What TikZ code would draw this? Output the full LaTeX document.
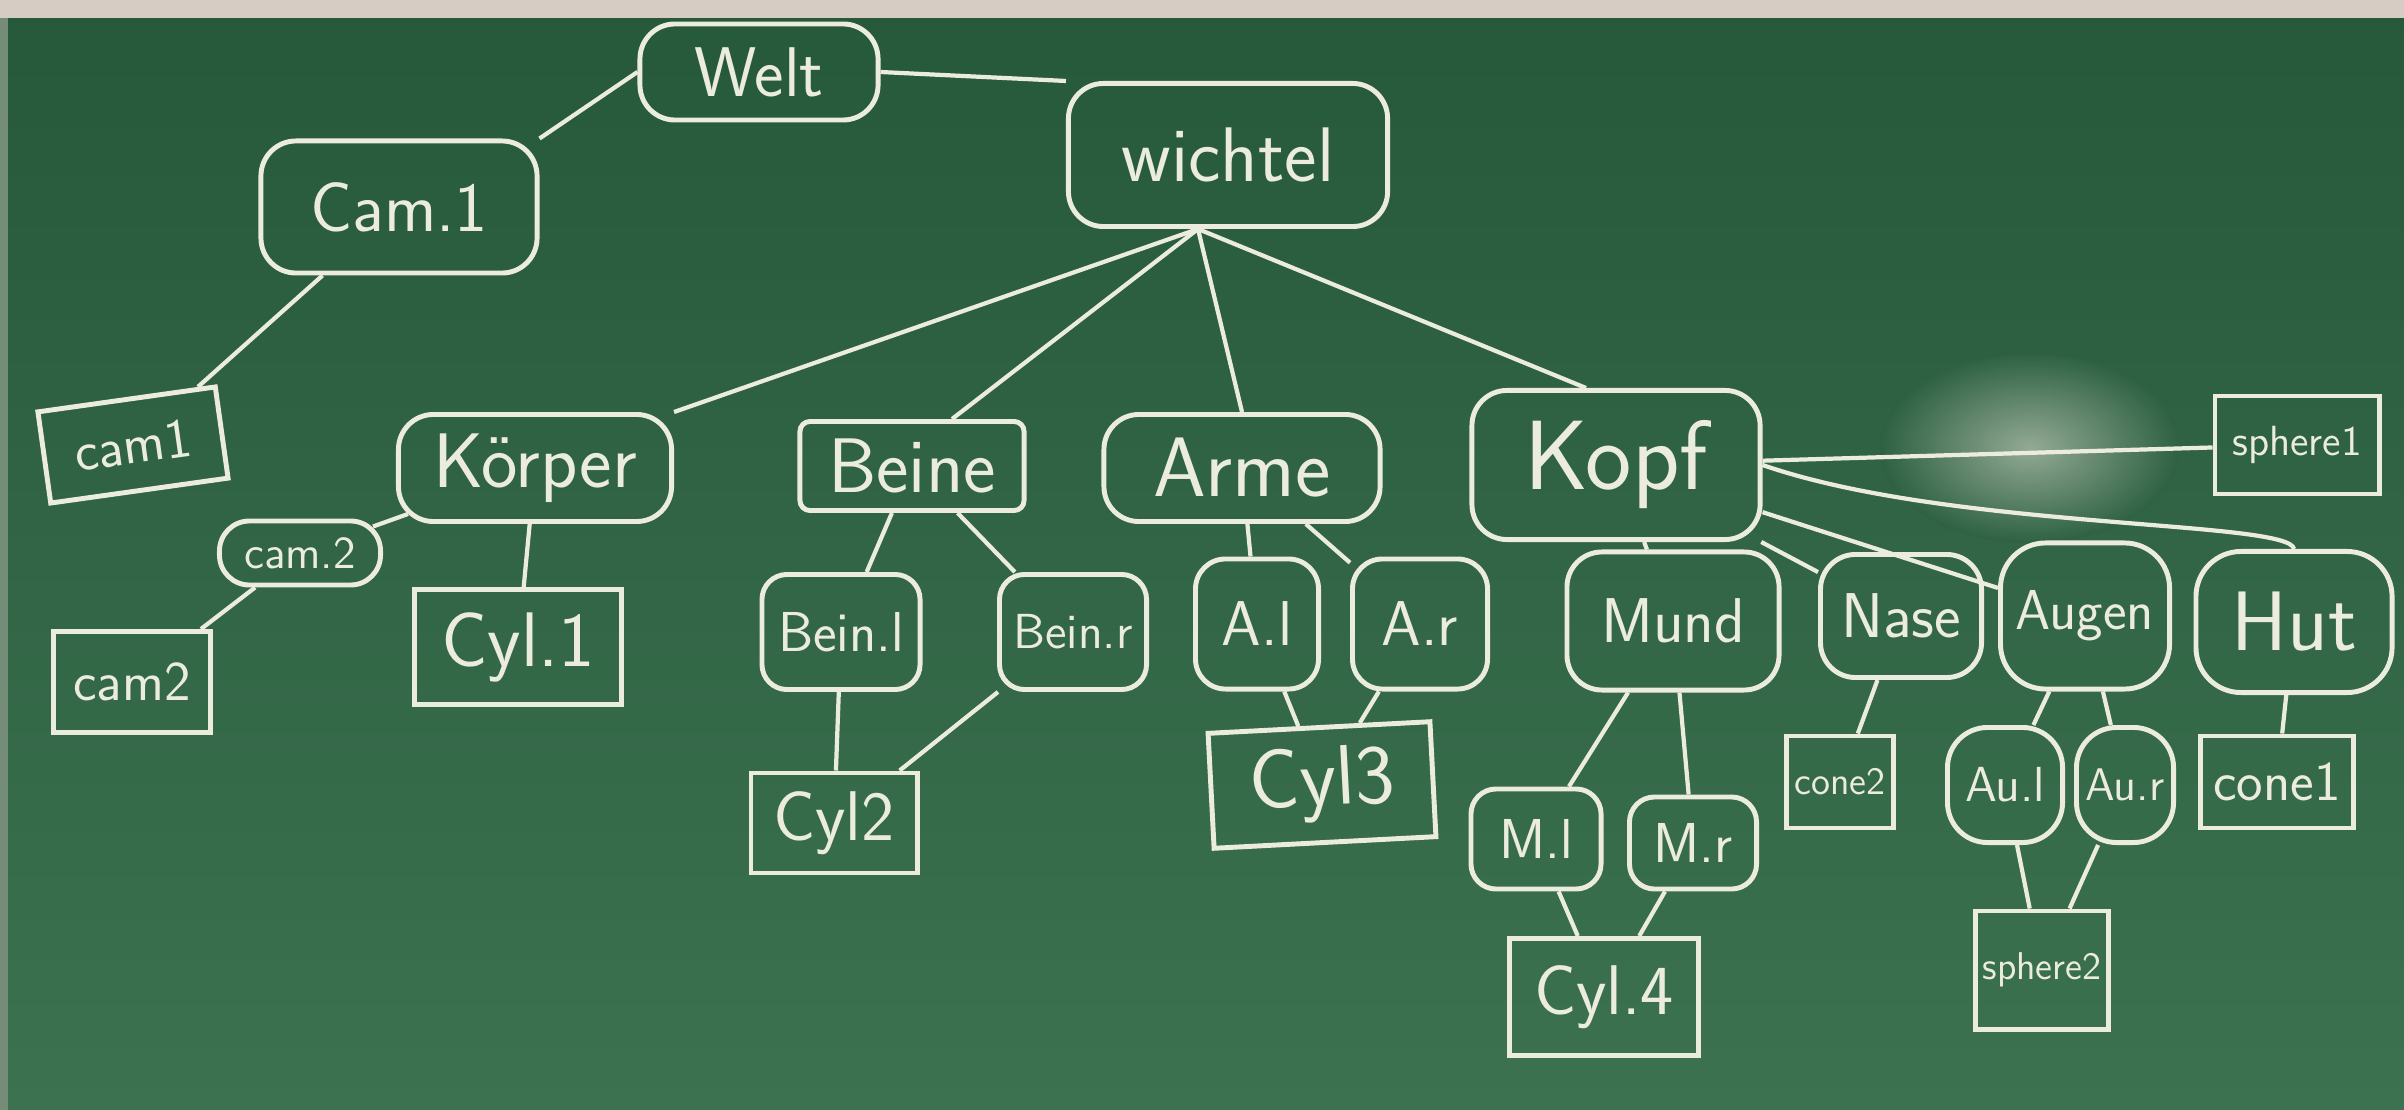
\documentclass[tikz,border=0pt]{standalone}
\usepackage{fontspec}
\usepackage{tikz}

\definecolor{boardtop}{RGB}{38,88,58}
\definecolor{boardbot}{RGB}{60,114,80}
\definecolor{chalk}{RGB}{236,236,222}
\definecolor{tray}{RGB}{214,204,196}

\begin{document}
\begin{tikzpicture}[x=0.01cm, y=-0.01cm,
    rbox/.style={draw=chalk, line width=1.4pt, rounded corners=0.35cm, text=chalk, inner sep=0pt},
    box/.style={draw=chalk, line width=1.4pt, text=chalk, inner sep=0pt},
    fs/.style={font=\sffamily\fontsize{#1}{#1}\selectfont},
    edge/.style={chalk, line width=1.2pt}]
    \useasboundingbox (0,0) rectangle (2404,1110);

    % Board
    \shade[top color=boardtop, bottom color=boardbot] (0,0) rectangle (2404,1110);
    \fill[tray] (0,0) rectangle (2404,18);
    \fill[tray!45!boardtop] (0,18) rectangle (8,1110);

    % Eraser smudge
    \shade[inner color=chalk!55!boardtop, outer color=boardtop!65!boardbot] (2030,448) ellipse (150 and 95);

    % Top level
    \node[rbox, fs=20, minimum width=2.38cm, minimum height=0.96cm] (welt) at (759,72) {Welt};
    \node[rbox, fs=22, minimum width=3.19cm, minimum height=1.43cm] (wichtel) at (1228,155) {wichtel};
    \node[rbox, fs=20, minimum width=2.76cm, minimum height=1.32cm] (cam1r) at (399,207) {Cam.1};
    \node[box, fs=16, minimum width=1.79cm, minimum height=0.92cm, rotate=8] (cam1) at (133,445) {cam1};

    % Body parts
    \node[rbox, fs=22, minimum width=2.73cm, minimum height=1.07cm] (koerper) at (535,468) {Körper};
    \node[box, fs=22, rounded corners=0.1cm, minimum width=2.24cm, minimum height=0.89cm] (beine) at (912,466) {Beine};
    \node[rbox, fs=24, minimum width=2.76cm, minimum height=1.07cm] (arme) at (1242,468) {Arme};
    \node[rbox, fs=28, minimum width=2.88cm, minimum height=1.49cm] (kopf) at (1616,465) {Kopf};
    \node[box, fs=12, minimum width=1.64cm, minimum height=0.98cm] (sphere1) at (2297,445) {sphere1};

    % Körper
    \node[rbox, fs=13, rounded corners=0.3cm, minimum width=1.61cm, minimum height=0.64cm] (cam2r) at (300,553) {cam.2};
    \node[box, fs=16, minimum width=1.56cm, minimum height=1.01cm] (cam2) at (132,682) {cam2};
    \node[box, fs=22, minimum width=2.07cm, minimum height=1.15cm] (cyl1) at (518,647) {Cyl.1};

    % Beine and Arme
    \node[rbox, fs=16, rounded corners=0.25cm, minimum width=1.58cm, minimum height=1.15cm] (beinl) at (841,632) {Bein.l};
    \node[rbox, fs=14, rounded corners=0.25cm, minimum width=1.47cm, minimum height=1.15cm] (beinr) at (1073,632) {Bein.r};
    \node[box, fs=20, minimum width=1.66cm, minimum height=1.0cm] (cyl2) at (834,823) {Cyl2};
    \node[rbox, fs=18, rounded corners=0.3cm, minimum width=1.23cm, minimum height=1.30cm] (al) at (1257,624) {A.l};
    \node[rbox, fs=18, rounded corners=0.3cm, minimum width=1.35cm, minimum height=1.30cm] (ar) at (1420,624) {A.r};
    \node[box, fs=24, minimum width=2.22cm, minimum height=1.15cm, rotate=3] (cyl3) at (1322,785) {Cyl3};

    % Kopf
    \node[rbox, fs=18, minimum width=2.12cm, minimum height=1.38cm] (mund) at (1673,621) {Mund};
    \node[rbox, fs=18, minimum width=1.61cm, minimum height=1.23cm] (nase) at (1901,616) {Nase};
    \node[rbox, fs=16, rounded corners=0.45cm, minimum width=1.69cm, minimum height=1.46cm] (augen) at (2085,616) {Augen};
    \node[rbox, fs=24, rounded corners=0.45cm, minimum width=1.96cm, minimum height=1.41cm] (hut) at (2294,622) {Hut};
    \node[rbox, fs=16, rounded corners=0.25cm, minimum width=1.30cm, minimum height=1.0cm] (ml) at (1536,839) {M.l};
    \node[rbox, fs=16, rounded corners=0.25cm, minimum width=1.27cm, minimum height=0.92cm] (mr) at (1693,843) {M.r};
    \node[box, fs=20, minimum width=1.89cm, minimum height=1.17cm] (cyl4) at (1604,997) {Cyl.4};
    \node[box, fs=11, minimum width=1.07cm, minimum height=0.92cm] (cone2) at (1840,782) {cone2};
    \node[rbox, fs=14, rounded corners=0.4cm, minimum width=1.15cm, minimum height=1.15cm] (aul) at (2005,785) {Au.l};
    \node[rbox, fs=13, rounded corners=0.4cm, minimum width=0.97cm, minimum height=1.15cm] (aur) at (2125,785) {Au.r};
    \node[box, fs=16, minimum width=1.53cm, minimum height=0.92cm] (cone1) at (2277,782) {cone1};
    \node[box, fs=11, minimum width=1.33cm, minimum height=1.18cm] (sphere2) at (2042,970) {sphere2};

    % Edges
    \draw[edge] (welt.west) -- (cam1r.north east);
    \draw[edge] (welt.east) -- (wichtel.north west);
    \draw[edge] (cam1r) -- (cam1);

    \coordinate (wfoot) at ([xshift=-0.3cm]wichtel.south);
    \draw[edge] (wfoot) -- (koerper.north east);
    \draw[edge] (wfoot) -- ([xshift=0.4cm]beine.north);
    \draw[edge] (wfoot) -- (arme.north);
    \draw[edge] (wfoot) -- ([xshift=-0.3cm]kopf.north);

    \coordinate (kfoot) at ([shift={(0.12cm,0.1cm)}]koerper.south west);
    \draw[edge] (kfoot) -- ([shift={(-0.1cm,-0.08cm)}]cam2r.north east);
    \draw[edge] (cam2r) -- (cam2);
    \draw[edge] (koerper) -- (cyl1);

    \draw[edge] (beine) -- (beinl);
    \draw[edge] (beine) -- (beinr);
    \draw[edge] (beinl) -- (cyl2);
    \draw[edge] (beinr) -- (cyl2);
    \draw[edge] (arme) -- (al);
    \draw[edge] (arme) -- (ar);
    \draw[edge] (al) -- (cyl3);
    \draw[edge] (ar) -- (cyl3);

    \draw[edge] (kopf) -- (sphere1);
    \draw[edge] (kopf) -- (mund);
    \draw[edge] (kopf) -- (nase);
    \draw[edge] (kopf) -- (augen);
    \draw[edge] (kopf.east) .. controls (1950,530) and (2290,520) .. (hut.north);
    \draw[edge] (mund) -- (ml);
    \draw[edge] (mund) -- (mr);
    \draw[edge] (ml) -- (cyl4);
    \draw[edge] (mr) -- (cyl4);
    \draw[edge] (nase) -- (cone2);
    \draw[edge] (augen) -- (aul);
    \draw[edge] (augen) -- (aur);
    \draw[edge] (aul) -- (sphere2);
    \draw[edge] (aur) -- (sphere2);
    \draw[edge] (hut) -- (cone1);
\end{tikzpicture}
\end{document}
